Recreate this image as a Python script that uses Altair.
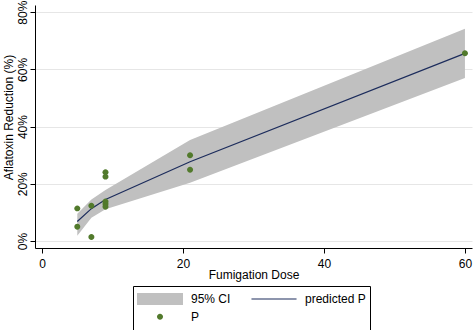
import altair as alt
import pandas as pd

# observed data
dose = [5, 5, 7, 7, 9, 9, 9, 9, 9, 21, 21, 60]
reduction = [0.114, 0.050, 0.123, 0.014, 0.240, 0.225, 0.138, 0.129, 0.120, 0.300, 0.249, 0.656]

# fitted values and 95% CI
fit_dose = [5, 7, 9, 21, 60]
fit_p = [0.068, 0.113, 0.145, 0.277, 0.656]
ci_lo = [0.018, 0.081, 0.111, 0.204, 0.570]
ci_hi = [0.095, 0.145, 0.178, 0.353, 0.742]

series_names = ["95% CI", "predicted P", "P"]
series_colors = ["#c0c0c0", "#1c2c5c", "#527a2c"]
x_ticks = [0, 20, 40, 60]
y_ticks = [0, 0.2, 0.4, 0.6, 0.8]

shape_paths = [
    "M-1,-0.26H1V0.26H-1Z",
    "M-0.98,-0.025H0.98V0.025H-0.98Z",
    "M-0.13,0A0.13,0.13,0,1,1,0.13,0A0.13,0.13,0,1,1,-0.13,0Z",
]

FONT = "Liberation Sans"

pts = pd.DataFrame({"dose": dose, "value": reduction, "series": "P"})
fit = pd.DataFrame({"dose": fit_dose, "value": fit_p, "series": "predicted P"})
ci = pd.DataFrame({"dose": fit_dose, "value": ci_lo, "hi": ci_hi, "series": "95% CI"})

legend = alt.Legend(
    orient="none", legendX=98, legendY=281, columns=2, direction="horizontal",
    title=None, values=series_names, clipHeight=17.5,
    symbolSize=2116, symbolStrokeWidth=0, symbolOpacity=1,
    labelFont=FONT, labelFontSize=12, labelColor="black", labelOffset=8,
    columnPadding=20, rowPadding=0, padding=4,
    strokeColor="black", fillColor="white",
)

x_enc = alt.X(
    "dose:Q",
    scale=alt.Scale(domain=[-1, 61], nice=False, zero=False),
    axis=alt.Axis(
        values=x_ticks, title="Fumigation Dose", grid=False,
        labelPadding=5, titleY=21, titleBaseline="top",
    ),
)
y_enc = alt.Y(
    "value:Q",
    scale=alt.Scale(domain=[-0.0245, 0.825], nice=False, zero=False),
    axis=alt.Axis(
        values=y_ticks, format=".0%", title="Aflatoxin Reduction (%)",
        labelAngle=270, labelAlign="center", labelBaseline="bottom", labelPadding=1,
        titleAngle=270, titleX=-32, titleY=112, titleAlign="center", titleBaseline="top",
        grid=True, gridColor="#e6e6e6",
    ),
)
color_enc = alt.Color(
    "series:N", sort=series_names,
    scale=alt.Scale(domain=series_names, range=series_colors), legend=legend,
)
shape_enc = alt.Shape(
    "series:N", sort=series_names,
    scale=alt.Scale(domain=series_names, range=shape_paths), legend=legend,
)

band = alt.Chart(ci).mark_area(opacity=1).encode(
    x=x_enc, y=y_enc, y2="hi:Q", color=color_enc
)
line = alt.Chart(fit).mark_line(strokeWidth=1.2).encode(
    x=x_enc, y=y_enc, color=color_enc
)
points = alt.Chart(pts).mark_point(filled=True, opacity=1, size=2116, strokeWidth=0).encode(
    x=x_enc, y=y_enc, color=color_enc, shape=shape_enc
)

chart = (
    alt.layer(band, line, points)
    .properties(
        width=437, height=243,
        autosize=alt.AutoSizeParams(type="none"),
        padding={"left": 35, "top": 5, "right": 2, "bottom": 82},
        background="white",
    )
    .configure_view(stroke=None)
    .configure_axis(
        domainColor="black", tickColor="black", tickSize=5,
        labelFont=FONT, labelFontSize=12, labelColor="black",
        titleFont=FONT, titleFontSize=12, titleFontWeight="normal", titleColor="black",
    )
)

chart.save("out.html", embed_options={"renderer": "svg", "actions": False})
